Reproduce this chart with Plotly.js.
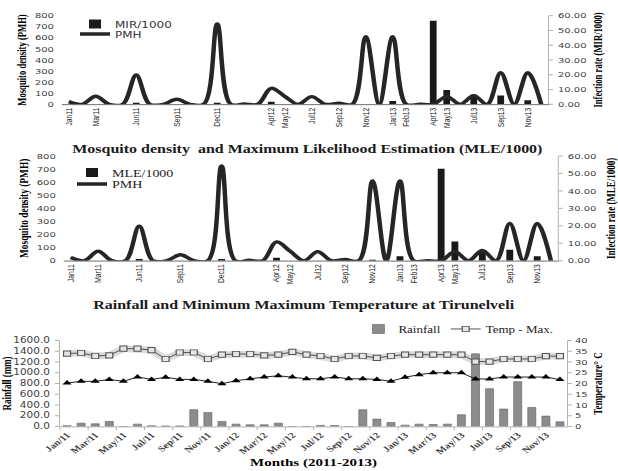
<!DOCTYPE html>
<html><head><meta charset="utf-8">
<script src="https://cdn.plot.ly/plotly-3.0.1.min.js"></script>
<style>
html,body{margin:0;padding:0;background:#fff;overflow:hidden;width:618px;height:471px;}
#wrap{width:618px;height:471px;overflow:hidden;position:relative;}
#chart{width:618px;height:628px;transform:scale(1,0.75);transform-origin:0 0;}
</style></head><body><div id="wrap"><div id="chart"></div></div>
<script>
const months = ['Jan11','Feb11','Mar11','Apr11','May11','Jun11','Jul11','Aug11','Sep11','Oct11','Nov11','Dec11','Jan12','Feb12','Mar12','Apr12','May12','Jun12','Jul12','Aug12','Sep12','Oct12','Nov12','Dec12','Jan13','Feb13','Mar13','Apr13','May13','Jun13','Jul13','Aug13','Sep13','Oct13','Nov13','Dec13'];
const labeledMonths = ['Jan11','Mar11','Jun11','Sep11','Dec11','Apr12','May12','Jul12','Sep12','Nov12','Jan13','Feb13','Apr13','May13','Jul13','Sep13','Nov13'];
const pmh = [24,0,72,0,0,264,0,0,45,0,0,725,0,3,0,144,72,0,69,0,9,0,610,0,610,0,0,0,69,0,78,0,285,0,285,0];
const mir = [null,null,null,null,null,1.1,null,null,null,null,null,1.1,null,null,null,1.7,null,null,null,null,null,null,null,null,2.3,null,null,56.6,9.7,null,6.5,null,5.9,null,2.7,null];
const mle = [null,null,null,null,null,1.0,null,null,null,null,null,1.0,null,null,null,1.7,null,null,null,null,null,null,0.5,null,2.5,null,null,52.7,11.0,null,6.2,null,6.3,null,2.5,null];
const monthsSlash = ['Jan/11','Feb/11','Mar/11','Apr/11','May/11','Jun/11','Jul/11','Aug/11','Sep/11','Oct/11','Nov/11','Dec/11','Jan/12','Feb/12','Mar/12','Apr/12','May/12','Jun/12','Jul/12','Aug/12','Sep/12','Oct/12','Nov/12','Dec/12','Jan/13','Feb/13','Mar/13','Apr/13','May/13','Jun/13','Jul/13','Aug/13','Sep/13','Oct/13','Nov/13','Dec/13'];
const rainfall = [15,62,50,94,0,44,12,10,10,312,262,94,44,31,31,62,0,0,19,19,0,312,137,75,25,44,37,44,218,1351,703,324,834,355,193,87];
const tempMax = [33.9,34.2,32.8,33.1,36.2,36.2,35.5,31.4,34.4,34.4,31.4,33.4,33.7,33.7,33.1,33.4,34.7,33.4,32.8,31.4,32.8,32.8,31.9,32.8,33.4,33.4,33.4,33.4,33.4,30.2,30.2,31.4,31.4,31.4,32.7,32.7];
const tempMin = [20.2,21.0,21.0,21.9,21.0,23.0,21.9,22.9,21.9,21.9,21.0,19.9,21.3,22.2,23.0,23.6,23.0,22.2,22.2,23.0,22.2,22.2,21.9,21.0,22.9,24.1,25.0,25.0,25.0,22.1,22.1,23.0,23.0,23.0,23.0,21.8];

const SERIF = 'Liberation Serif, Times New Roman, serif';
const SANS = 'DejaVu Sans, Verdana, sans-serif';
const ARIAL = 'Liberation Sans, Arial, sans-serif';
const tickGray = '#404040';

const traces = [
  {type:'bar', name:'MIR/1000', x:months, y:mir, xaxis:'x', yaxis:'y', width:0.5,
   marker:{color:'#1a1a1a'}, legend:'legend'},
  {type:'scatter', mode:'lines', name:'PMH', x:months, y:pmh, xaxis:'x', yaxis:'y2',
   line:{color:'#262626', width:4.5, shape:'spline', smoothing:1}, legend:'legend2'},
  {type:'bar', name:'MLE/1000', x:months, y:mle, xaxis:'x2', yaxis:'y3', width:0.5,
   marker:{color:'#1a1a1a'}, legend:'legend3'},
  {type:'scatter', mode:'lines', name:'PMH', x:months, y:pmh, xaxis:'x2', yaxis:'y4',
   line:{color:'#262626', width:4.5, shape:'spline', smoothing:1}, legend:'legend4'},
  {type:'bar', name:'Rainfall', x:monthsSlash, y:rainfall, xaxis:'x3', yaxis:'y5', width:0.57,
   marker:{color:'#8c8c8c', line:{color:'#606060', width:0.7}}, legend:'legend5'},
  {type:'scatter', mode:'lines', name:'glow', x:monthsSlash, y:tempMax, xaxis:'x3', yaxis:'y6',
   line:{color:'rgba(150,150,150,0.35)', width:9}, showlegend:false, hoverinfo:'skip'},
  {type:'scatter', mode:'lines+markers', name:'Temp - Max.', x:monthsSlash, y:tempMax, xaxis:'x3', yaxis:'y6',
   line:{color:'#404040', width:1}, marker:{symbol:'square', size:7, color:'#e6e6e6', line:{color:'#555555', width:1.2}}, legend:'legend5'},
  {type:'scatter', mode:'lines+markers', name:'Temp - Min.', x:monthsSlash, y:tempMin, xaxis:'x3', yaxis:'y6',
   line:{color:'#000000', width:1}, marker:{symbol:'triangle-up', size:8, color:'#000000'}, showlegend:false}
];

const topX = (dom) => ({domain:dom, type:'category', categoryarray:months, categoryorder:'array', range:[-0.5,35.5],
  tickmode:'array', tickvals:labeledMonths, ticktext:labeledMonths, tickangle:-90,
  tickfont:{family:ARIAL, size:9, color:'#262626'}, ticks:'', showline:true, linecolor:'#595959', linewidth:1,
  showgrid:false, zeroline:false, fixedrange:true});

const leg = (x, y, font) => ({x:x, y:y, xanchor:'left', yanchor:'middle', bgcolor:'rgba(0,0,0,0)', borderwidth:0,
  font:font, itemwidth:30, tracegroupgap:0});

const layout = {
  width:618, height:628, autosize:false,
  margin:{l:0,r:0,t:0,b:0}, paper_bgcolor:'#ffffff', plot_bgcolor:'rgba(0,0,0,0)',
  showlegend:true,
  xaxis: Object.assign(topX([0.1003,0.8867]), {anchor:'y'}),
  yaxis: {domain:[0.7786,0.9667], anchor:'x', side:'right', range:[0,60], dtick:10, tickformat:'.2f',
    tickfont:{family:SANS, size:10, color:tickGray}, showline:true, linecolor:'#a6a6a6', ticks:'outside', ticklen:4, tickcolor:'#a6a6a6',
    showgrid:false, zeroline:false, ticklabelstandoff:3,
    title:{text:'Infection rate (MIR/1000)', font:{family:SERIF, size:11.5, weight:'bold', color:'#000'}, standoff:8}},
  yaxis2: {overlaying:'y', anchor:'x', side:'left', range:[0,800], dtick:100,
    tickfont:{family:SANS, size:10, color:tickGray}, showline:false, ticks:'', showgrid:false, zeroline:false, ticklabelstandoff:7,
    title:{text:'Mosquito density (PMH)', font:{family:SERIF, size:11.5, weight:'bold', color:'#000'}, standoff:5}},
  xaxis2: Object.assign(topX([0.1032,0.9026]), {anchor:'y3'}),
  yaxis3: {domain:[0.4465,0.6688], anchor:'x2', side:'right', range:[0,60], dtick:10, tickformat:'.2f',
    tickfont:{family:SANS, size:10, color:tickGray}, showline:true, linecolor:'#a6a6a6', ticks:'outside', ticklen:4, tickcolor:'#a6a6a6',
    showgrid:false, zeroline:false, ticklabelstandoff:3,
    title:{text:'Infection rate (MLE/1000)', font:{family:SERIF, size:12, weight:'bold', color:'#000'}, standoff:11}},
  yaxis4: {overlaying:'y3', anchor:'x2', side:'left', range:[0,800], dtick:100,
    tickfont:{family:SANS, size:10, color:tickGray}, showline:false, ticks:'', showgrid:false, zeroline:false, ticklabelstandoff:7,
    title:{text:'Mosquito density (PMH)', font:{family:SERIF, size:12.5, weight:'bold', color:'#000'}, standoff:5}},
  xaxis3: {domain:[0.0971,0.9175], anchor:'y5', type:'category', categoryarray:monthsSlash, categoryorder:'array', range:[-0.5,35.5],
    dtick:2, tick0:0, tickson:'boundaries', ticks:'outside', ticklen:4, tickcolor:'#a6a6a6', tickangle:-45,
    tickfont:{family:SERIF, size:11, weight:'bold', color:tickGray}, showline:true, linecolor:'#a6a6a6', showgrid:false, zeroline:false,
    title:{text:'Months (2011-2013)', font:{family:SERIF, size:15, weight:'bold', color:'#000'}, standoff:4}},
  yaxis5: {domain:[0.0945,0.2771], anchor:'x3', side:'left', range:[0,1600], dtick:200, tickformat:'.1f',
    tickfont:{family:SANS, size:10.5, color:tickGray}, showline:true, linecolor:'#a6a6a6', ticks:'outside', ticklen:4, tickcolor:'#a6a6a6',
    showgrid:false, zeroline:false, ticklabelstandoff:3,
    title:{text:'Rainfall (mm)', font:{family:SERIF, size:12, weight:'bold', color:'#000'}, standoff:2}},
  yaxis6: {overlaying:'y5', anchor:'x3', side:'right', range:[0,40], dtick:5,
    tickfont:{family:SANS, size:10, color:tickGray}, showline:true, linecolor:'#a6a6a6', ticks:'outside', ticklen:4, tickcolor:'#a6a6a6',
    showgrid:false, zeroline:false, ticklabelstandoff:1,
    title:{text:'Temperature° C', font:{family:SERIF, size:12, weight:'bold', color:'#000'}, standoff:6}},
  legend: leg(0.1214, 0.949, {family:SANS, size:12, color:'#333'}),
  legend2: leg(0.1214, 0.9278, {family:SANS, size:12, color:'#333'}),
  legend3: leg(0.1165, 0.6333, {family:SERIF, size:14, color:'#222'}),
  legend4: leg(0.1165, 0.6087, {family:SERIF, size:14, color:'#222'}),
  legend5: Object.assign(leg(0.58, 0.3015, {family:SERIF, size:13, color:'#222'}), {orientation:'h'}),
  annotations: [
    {text:'Mosquito density  and Maximum Likelihood Estimation (MLE/1000)', xref:'paper', yref:'paper', x:0.498, y:0.6837,
     xanchor:'center', yanchor:'middle', showarrow:false, font:{family:SERIF, size:16, weight:'bold', color:'#1a1a1a'}},
    {text:'Rainfall and Minimum Maximum Temperature at Tirunelveli', xref:'paper', yref:'paper', x:0.492, y:0.3524,
     xanchor:'center', yanchor:'middle', showarrow:false, font:{family:SERIF, size:16, weight:'bold', color:'#1a1a1a'}}
  ]
};

Plotly.newPlot('chart', traces, layout, {displayModeBar:false, staticPlot:true});
</script></body></html>
